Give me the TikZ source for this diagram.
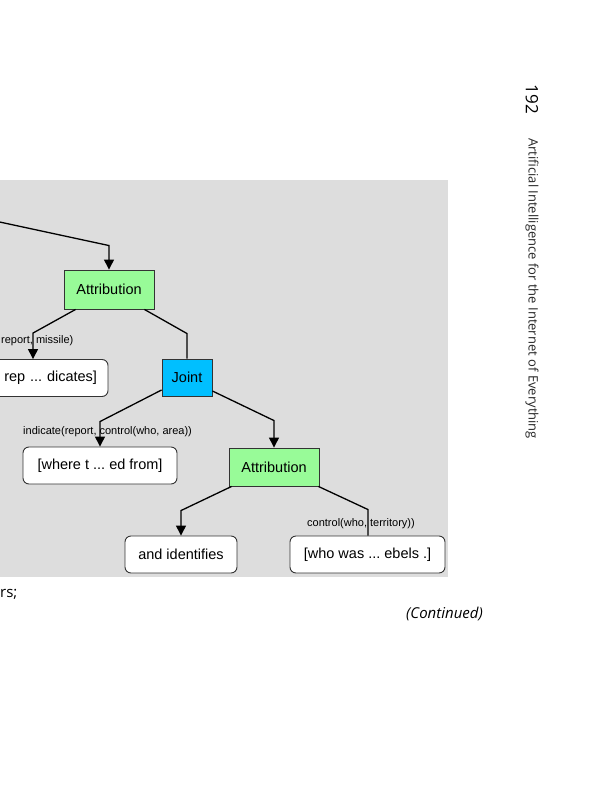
\documentclass[tikz,border=0pt]{standalone}
\usepackage{fontspec}
\setmainfont{Liberation Sans}
\newfontfamily\hdrfont{Open Sans}
\usetikzlibrary{arrows.meta}
\frenchspacing
\definecolor{bggray}{HTML}{DDDDDD}
\definecolor{attgreen}{HTML}{98FB98}
\definecolor{jointblue}{HTML}{00BFFF}
\definecolor{edgegray}{HTML}{333333}
\tikzset{
  relbox/.style={draw=edgegray, line width=0.9pt, inner sep=0pt, font=\fontsize{14.5}{16}\selectfont},
  attbox/.style={relbox, fill=attgreen, minimum width=90pt, minimum height=39pt},
  jointbox/.style={relbox, fill=jointblue, minimum width=50pt, minimum height=37pt},
  leafbox/.style={draw=edgegray, line width=0.9pt, fill=white, rounded corners=6pt, inner sep=0pt, minimum height=37pt, font=\fontsize{14.5}{16}\selectfont},
  conn/.style={line width=1.3pt, draw=black},
  arr/.style={conn, -{Triangle[width=10pt,length=10pt]}},
  rellabel/.style={inner sep=0pt, font=\fontsize{11}{12}\selectfont, anchor=west},
}
\begin{document}
\begin{tikzpicture}[x=1pt,y=-1pt]
\useasboundingbox (0,0) rectangle (599,800);
\fill[bggray] (0,180) rectangle (448,577);

% nodes
\node[attbox] (att1) at (109,289.5) {Attribution};
\node[leafbox, text width=106pt, inner xsep=11pt, align=right] (rep) at (44,378) {rep ... dicates]};
\node[jointbox] (joint) at (187,377.5) {Joint};
\node[leafbox, minimum width=154pt] (where) at (100,465.5) {[where t ... ed from]};
\node[attbox, minimum height=38pt] (att2) at (274,467) {Attribution};
\node[leafbox, minimum width=112pt] (andid) at (181,554.5) {and identifies};
\node[leafbox, minimum width=155pt] (who) at (367.5,554.5) {[who was ... ebels .]};
\coordinate (tl) at (-5,221);

% connectors
\draw[arr] (tl) -- ([yshift=24pt]att1.north) -- (att1.north);
\draw[arr] ([xshift=12pt]att1.south west) -- ([xshift=-11pt,yshift=26pt]rep.north) -- ([xshift=-11pt]rep.north);
\draw[conn] ([xshift=-10pt]att1.south east) -- ([yshift=25pt]joint.north) -- (joint.north);
\draw[arr] ([yshift=-12.5pt]joint.west) -- ([yshift=25pt]where.north) -- (where.north);
\draw[arr] ([yshift=-13.5pt]joint.east) -- ([yshift=27pt]att2.north) -- (att2.north);
\draw[arr] ([xshift=3pt]att2.south west) -- ([yshift=25pt]andid.north) -- (andid.north);
\draw[conn] ([xshift=-1pt]att2.south east) -- ([xshift=0.5pt,yshift=26pt]who.north) -- ([xshift=0.5pt]who.north);

% labels
\node[rellabel] (l1) at (1,341) {report, missile)};
\node[rellabel] (l2) at (23,432) {indicate(report, control(who, area))};
\node[rellabel] (l3) at (307,524) {control(who, territory))};

% page text
\node[font=\hdrfont\fontsize{17}{18}\selectfont, rotate=-90, inner sep=0pt] (pg) at (532,99.5) {192};
\node[font=\hdrfont\fontsize{13}{14}\selectfont, rotate=-90, inner sep=0pt, anchor=west, color=black!85] (hdr) at (532,138) {Artificial Intelligence for the Internet of Everything};
\node[font=\hdrfont\fontsize{15}{16}\selectfont, anchor=west, inner sep=0pt] (cut) at (0,594) {rs;};
\node[font=\hdrfont\itshape\fontsize{15}{16}\selectfont, anchor=east, inner sep=0pt] (cont) at (483,614) {(Continued)};
\end{tikzpicture}
\end{document}
